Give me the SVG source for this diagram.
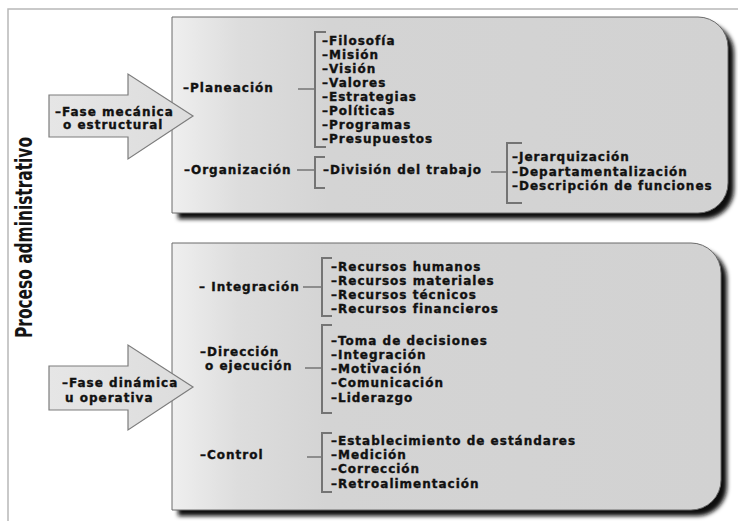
<svg xmlns="http://www.w3.org/2000/svg" width="738" height="521" viewBox="0 0 738 521">
  <defs>
    <linearGradient id="panelFill" x1="0" y1="0" x2="1" y2="0">
      <stop offset="0" stop-color="#efefef"/>
      <stop offset="0.12" stop-color="#dddddd"/>
      <stop offset="0.28" stop-color="#d4d4d4"/>
      <stop offset="1" stop-color="#d2d2d2"/>
    </linearGradient>
    <linearGradient id="arrowFill" x1="0" y1="0" x2="1" y2="0">
      <stop offset="0" stop-color="#e6e6e6"/>
      <stop offset="1" stop-color="#dcdcdc"/>
    </linearGradient>
    <filter id="softShadow" x="-5%" y="-5%" width="115%" height="115%">
      <feGaussianBlur stdDeviation="2.2"/>
    </filter>
  </defs>
  <style>
    .frame { fill: none; stroke: #b8b8b8; stroke-width: 1.5; }
    .panel { fill: url(#panelFill); stroke: #6a6a6a; stroke-width: 1; }
    .shadow { fill: #101010; filter: url(#softShadow); }
    .arrow { fill: url(#arrowFill); stroke: #7c7c7c; stroke-width: 1.2; }
    .lbl { font-family: "DejaVu Sans", "Liberation Sans", sans-serif; font-weight: bold; font-size: 12px; letter-spacing: 1px; fill: #111111; stroke: #111111; stroke-width: 0.35; }
    .title { font-family: "DejaVu Sans Condensed", "DejaVu Sans", "Liberation Sans", sans-serif; font-weight: bold; font-size: 23px; fill: #141414; }
    .link { fill: none; stroke: #747474; stroke-width: 1.5; }
    .brace { fill: none; stroke: #747474; stroke-width: 2; }
  </style>

  <rect width="738" height="521" fill="#ffffff"/>
  <path class="frame" d="M738,9 H8 V521"/>

  <g id="title">
    <text class="title" transform="translate(32,338) rotate(-90)" textLength="201" lengthAdjust="spacingAndGlyphs">Proceso administrativo</text>
  </g>

  <!-- upper phase panel -->
  <g id="panel-mecanica">
    <path class="shadow" d="M178,23 H704 A30,30 0 0 1 734,53 V189 A30,30 0 0 1 704,219 H178 Z"/>
    <path class="panel" d="M172,17 H698 A30,30 0 0 1 728,47 V183 A30,30 0 0 1 698,213 H172 Z"/>
  </g>

  <!-- lower phase panel -->
  <g id="panel-dinamica">
    <path class="shadow" d="M178,249 H697 A30,30 0 0 1 727,279 V486 A30,30 0 0 1 697,516 H178 Z"/>
    <path class="panel" d="M172,243 H691 A30,30 0 0 1 721,273 V480 A30,30 0 0 1 691,510 H172 Z"/>
  </g>

  <g id="connectors">
    <!-- Planeación -->
    <path class="link" d="M298,89 H315"/>
    <path class="brace" d="M326,32 H315 V147 H326"/>
    <!-- Organización -->
    <path class="link" d="M297,170 H315"/>
    <path class="brace" d="M325,157 H315 V188 H325"/>
    <!-- División del trabajo -->
    <path class="link" d="M491,172 H507"/>
    <path class="brace" d="M522,143 H507 V203 H522"/>
    <!-- Integración -->
    <path class="link" d="M303,287 H322"/>
    <path class="brace" d="M332,258 H322 V316 H332"/>
    <!-- Dirección -->
    <path class="link" d="M305,368 H322"/>
    <path class="brace" d="M332,325 H322 V413 H332"/>
    <!-- Control -->
    <path class="link" d="M307,457 H322"/>
    <path class="brace" d="M332,433 H322 V492 H332"/>
  </g>

  <g id="arrow-mecanica">
    <path class="arrow" d="M49,95 H128 V74 L193,116 L128,159 V137 H49 Z"/>
    <text class="lbl" x="55" y="116">–Fase mecánica</text>
    <text class="lbl" x="63" y="129">o estructural</text>
  </g>

  <g id="arrow-dinamica">
    <path class="arrow" d="M49,366 H128 V345 L193,387 L128,430 V410 H49 Z"/>
    <text class="lbl" x="62" y="387">–Fase dinámica</text>
    <text class="lbl" x="65" y="402">u operativa</text>
  </g>

  <g id="planeacion">
    <text class="lbl" x="183" y="92">–Planeación</text>
  </g>
  <g id="planeacion-items">
    <text class="lbl" x="322" y="45">–Filosofía</text>
    <text class="lbl" x="322" y="59">–Misión</text>
    <text class="lbl" x="322" y="73">–Visión</text>
    <text class="lbl" x="322" y="87">–Valores</text>
    <text class="lbl" x="322" y="101">–Estrategias</text>
    <text class="lbl" x="322" y="115">–Políticas</text>
    <text class="lbl" x="322" y="129">–Programas</text>
    <text class="lbl" x="322" y="143">–Presupuestos</text>
  </g>

  <g id="organizacion">
    <text class="lbl" x="184" y="174">–Organización</text>
  </g>
  <g id="division-trabajo">
    <text class="lbl" x="323" y="174">–División del trabajo</text>
  </g>
  <g id="division-items">
    <text class="lbl" x="512" y="161">–Jerarquización</text>
    <text class="lbl" x="512" y="176">–Departamentalización</text>
    <text class="lbl" x="512" y="190">–Descripción de funciones</text>
  </g>

  <g id="integracion">
    <text class="lbl" x="199" y="291">– Integración</text>
  </g>
  <g id="integracion-items">
    <text class="lbl" x="331" y="271">–Recursos humanos</text>
    <text class="lbl" x="331" y="285">–Recursos materiales</text>
    <text class="lbl" x="331" y="299">–Recursos técnicos</text>
    <text class="lbl" x="331" y="313">–Recursos financieros</text>
  </g>

  <g id="direccion">
    <text class="lbl" x="200" y="356">–Dirección</text>
    <text class="lbl" x="205" y="370">o ejecución</text>
  </g>
  <g id="direccion-items">
    <text class="lbl" x="331" y="345">–Toma de decisiones</text>
    <text class="lbl" x="331" y="359">–Integración</text>
    <text class="lbl" x="331" y="373">–Motivación</text>
    <text class="lbl" x="331" y="387">–Comunicación</text>
    <text class="lbl" x="331" y="402">–Liderazgo</text>
  </g>

  <g id="control">
    <text class="lbl" x="200" y="459">–Control</text>
  </g>
  <g id="control-items">
    <text class="lbl" x="331" y="445">–Establecimiento de estándares</text>
    <text class="lbl" x="331" y="459">–Medición</text>
    <text class="lbl" x="331" y="473">–Corrección</text>
    <text class="lbl" x="331" y="488">–Retroalimentación</text>
  </g>
</svg>
